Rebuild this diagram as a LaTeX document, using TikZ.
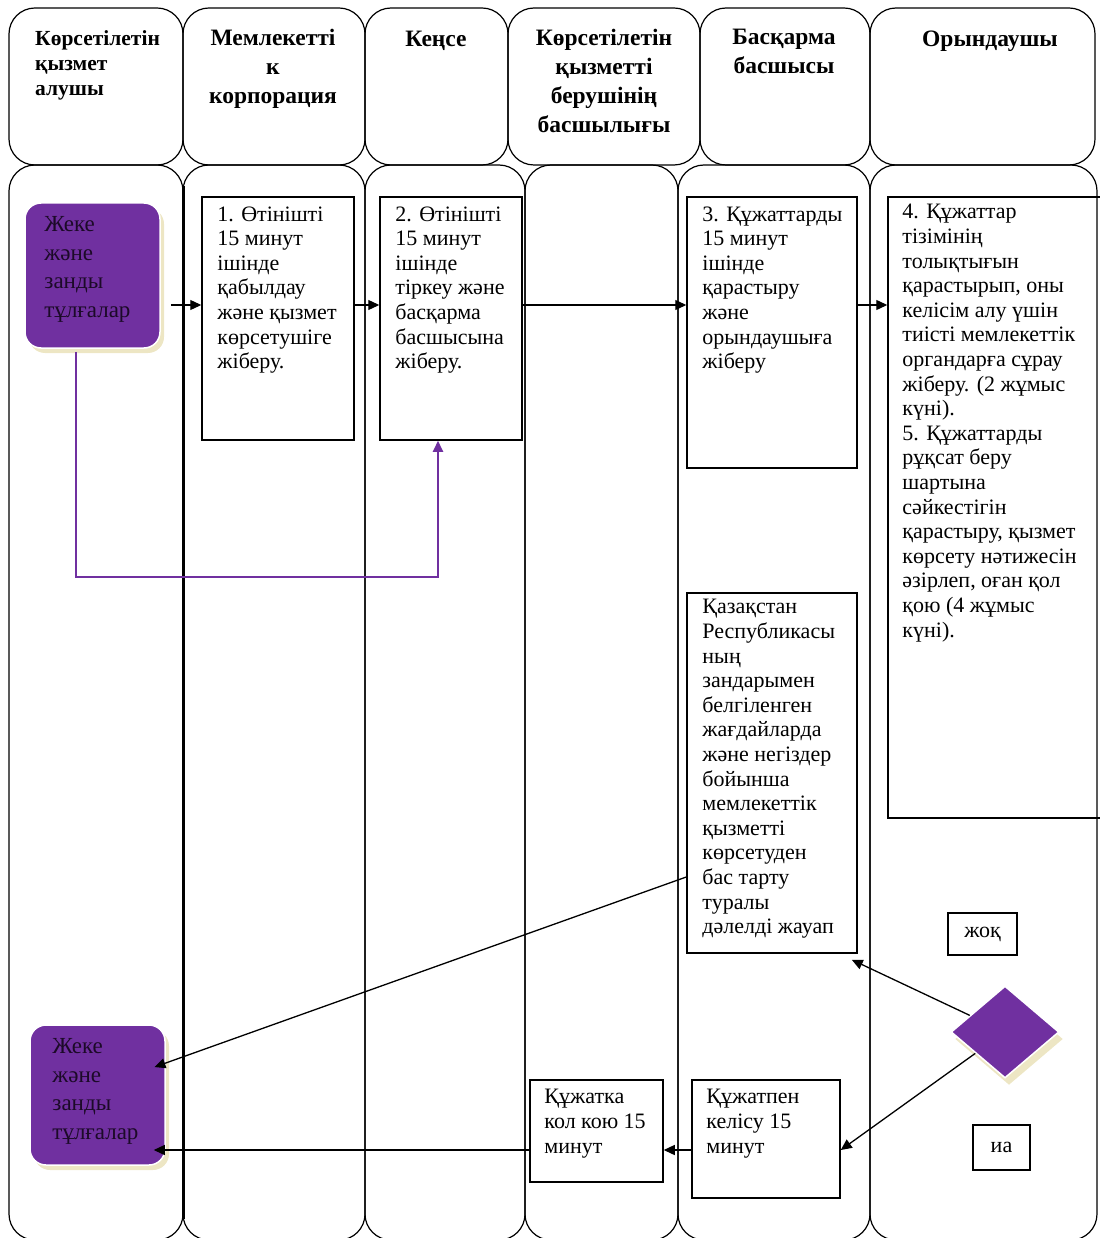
\documentclass[tikz,border=0pt]{standalone}
\usepackage{fontspec}
\setmainfont{Liberation Serif}
\usetikzlibrary{arrows.meta,shapes.geometric,shadows}
\definecolor{vio}{HTML}{7030A0}
\definecolor{cream}{HTML}{EDE6C4}
\definecolor{darktxt}{HTML}{1C0A28}
\begin{document}
\begin{tikzpicture}[x=1pt,y=-1pt,
  lane/.style={draw, line width=1.2pt, rounded corners=26pt, inner sep=0},
  hdrtxt/.style={font=\bfseries\fontsize{23.5}{29}\selectfont, align=center, anchor=north, inner sep=0},
  box/.style={draw, line width=1.5pt, inner sep=0},
  txt/.style={font=\fontsize{22}{24.6}\selectfont, align=left, anchor=north west, inner sep=0},
  ptxt/.style={font=\fontsize{23}{28.5}\selectfont, align=left, anchor=north west, inner sep=0, text=darktxt},
  pbox/.style={fill=vio, draw=white, line width=1.5pt, rounded corners=16pt, inner sep=0,
    copy shadow={fill=cream, draw=none, shadow xshift=4pt, shadow yshift=-5pt}},
  arr/.style={line width=1.3pt, -{Triangle[length=11pt,width=10pt]}},
  parr/.style={line width=2pt, draw=vio, -{Triangle[length=11pt,width=10pt]}}
]
\useasboundingbox (0,0) rectangle (1099,1238);
% header boxes
\node[lane, minimum width=174pt, minimum height=157pt] (h1) at (96,86.5) {};
\node[lane, minimum width=182pt, minimum height=157pt] (h2) at (274,86.5) {};
\node[lane, minimum width=143pt, minimum height=157pt] (h3) at (436.5,86.5) {};
\node[lane, minimum width=192pt, minimum height=157pt] (h4) at (604,86.5) {};
\node[lane, minimum width=170pt, minimum height=157pt] (h5) at (785,86.5) {};
\node[lane, minimum width=225pt, minimum height=157pt] (h6) at (982.5,86.5) {};
% lanes
\node[lane, minimum width=174pt, minimum height=1075pt] (l1) at (96,702.5) {};
\node[lane, minimum width=182pt, minimum height=1075pt] (l2) at (274,702.5) {};
\node[lane, minimum width=160pt, minimum height=1075pt] (l3) at (445,702.5) {};
\node[lane, minimum width=153pt, minimum height=1075pt] (l4) at (601.5,702.5) {};
\node[lane, minimum width=192pt, minimum height=1075pt] (l5) at (774,702.5) {};
\node[lane, minimum width=227pt, minimum height=1075pt] (l6) at (983.5,702.5) {};
\draw[line width=2.6pt] ([yshift=-22pt]l1.north east) -- ([yshift=22pt]l1.south east);
% header texts
\node[hdrtxt, anchor=north west, align=left, font=\bfseries\fontsize{21.5}{25}\selectfont] (t1) at (35,30) {Көрсетілетін\\қызмет\\алушы};
\node[hdrtxt] (t2) at (273,29) {Мемлекетті\\к\\корпорация};
\node[hdrtxt] (t3) at (436,31) {Кеңсе};
\node[hdrtxt] (t4) at (604,29) {Көрсетілетін\\қызметті\\берушінің\\басшылығы};
\node[hdrtxt] (t5) at (784,29) {Басқарма\\басшысы};
\node[hdrtxt] (t6) at (990,31) {Орындаушы};
% purple boxes
\node[pbox, minimum width=135pt, minimum height=145pt] (p1) at (92.5,275.5) {};
\node[ptxt] (p1t) at ([xshift=20pt,yshift=-14pt]p1.north west) {Жеке\\және\\занды\\тұлғалар};
\node[pbox, minimum width=135pt, minimum height=140pt] (p2) at (97.5,1095) {};
\node[ptxt] (p2t) at ([xshift=23pt,yshift=-14pt]p2.north west) {Жеке\\және\\занды\\тұлғалар};
% process boxes
\node[box, minimum width=152pt, minimum height=243pt] (b1) at (278,318.5) {};
\node[txt] (b1t) at ([xshift=16pt,yshift=-10pt]b1.north west) {1. Өтінішті\\15 минут\\ішінде\\қабылдау\\және қызмет\\көрсетушіге\\жіберу.};
\node[box, minimum width=142pt, minimum height=243pt] (b2) at (451,318.5) {};
\node[txt] (b2t) at ([xshift=16pt,yshift=-10pt]b2.north west) {2. Өтінішті\\15 минут\\ішінде\\тіркеу және\\басқарма\\басшысына\\жіберу.};
\node[box, minimum width=170pt, minimum height=271pt] (b3) at (772,332.5) {};
\node[txt] (b3t) at ([xshift=16pt,yshift=-10pt]b3.north west) {3. Құжаттарды\\15 минут\\ішінде\\қарастыру\\және\\орындаушыға\\жіберу};
\node[box, minimum width=216pt, minimum height=621pt] (b4) at (996,507.5) {};
\node[txt] (b4t) at ([xshift=15pt,yshift=-8pt]b4.north west) {4. Құжаттар\\тізімінің\\толықтығын\\қарастырып, оны\\келісім алу үшін\\тиісті мемлекеттік\\органдарға сұрау\\жіберу. (2 жұмыс\\күні).\\5. Құжаттарды\\рұқсат беру\\шартына\\сәйкестігін\\қарастыру, қызмет\\көрсету нәтижесін\\әзірлеп, оған қол\\қою (4 жұмыс\\күні).};
\node[box, minimum width=170pt, minimum height=360pt] (ref) at (772,773) {};
\node[txt] (reft) at ([xshift=16pt,yshift=-7pt]ref.north west) {Қазақстан\\Республикасы\\ның\\зандарымен\\белгіленген\\жағдайларда\\және негіздер\\бойынша\\мемлекеттік\\қызметті\\көрсетуден\\бас тарту\\туралы\\дәлелді жауап};
\node[box, minimum width=69pt, minimum height=42pt, font=\fontsize{22}{24}\selectfont] (no) at (982.5,934) {жоқ};
\node[box, minimum width=57pt, minimum height=45pt, font=\fontsize{22}{24}\selectfont] (yes) at (1001.5,1147.5) {иа};
\node[box, minimum width=133pt, minimum height=102pt] (kuz) at (596.5,1131) {};
\node[txt] (kuzt) at ([xshift=15pt,yshift=-10pt]kuz.north west) {Құжатка\\кол кою 15\\минут};
\node[box, minimum width=148pt, minimum height=118pt] (kel) at (766,1139) {};
\node[txt] (kelt) at ([xshift=15pt,yshift=-10pt]kel.north west) {Құжатпен\\келісу 15\\минут};
% decision
\node[diamond, fill=vio, draw=white, line width=1.5pt, minimum width=108pt, minimum height=92pt, inner sep=0,
  copy shadow={fill=cream, draw=none, shadow xshift=4pt, shadow yshift=-7pt}] (d) at (1005,1032) {};
% rows
\coordinate (row1) at (0,305);
\coordinate (row4) at (0,1150);
\coordinate (pc) at (438,577);
% connectors
\draw[arr, shorten <=10pt] (p1.east |- row1) -- (b1.west |- row1);
\draw[arr] (b1.east |- row1) -- (b2.west |- row1);
\draw[arr] (b2.east |- row1) -- (b3.west |- row1);
\draw[arr] (b3.east |- row1) -- (b4.west |- row1);
\draw[parr] ([xshift=-17pt,yshift=-3pt]p1.south) |- (pc) -- (pc |- b2.south);
\draw[arr, shorten >=-12pt] ([yshift=-104pt]ref.west) -- ([yshift=32pt]p2.east);
\draw[arr] (d) -- ([xshift=-6pt,yshift=-6pt]ref.south east);
\draw[arr] (d) -- ([yshift=-11pt]kel.east);
\draw[arr] (kel.west |- row4) -- (kuz.east |- row4);
\draw[arr, shorten >=-12pt] (kuz.west |- row4) -- (p2.east |- row4);
\end{tikzpicture}
\end{document}
